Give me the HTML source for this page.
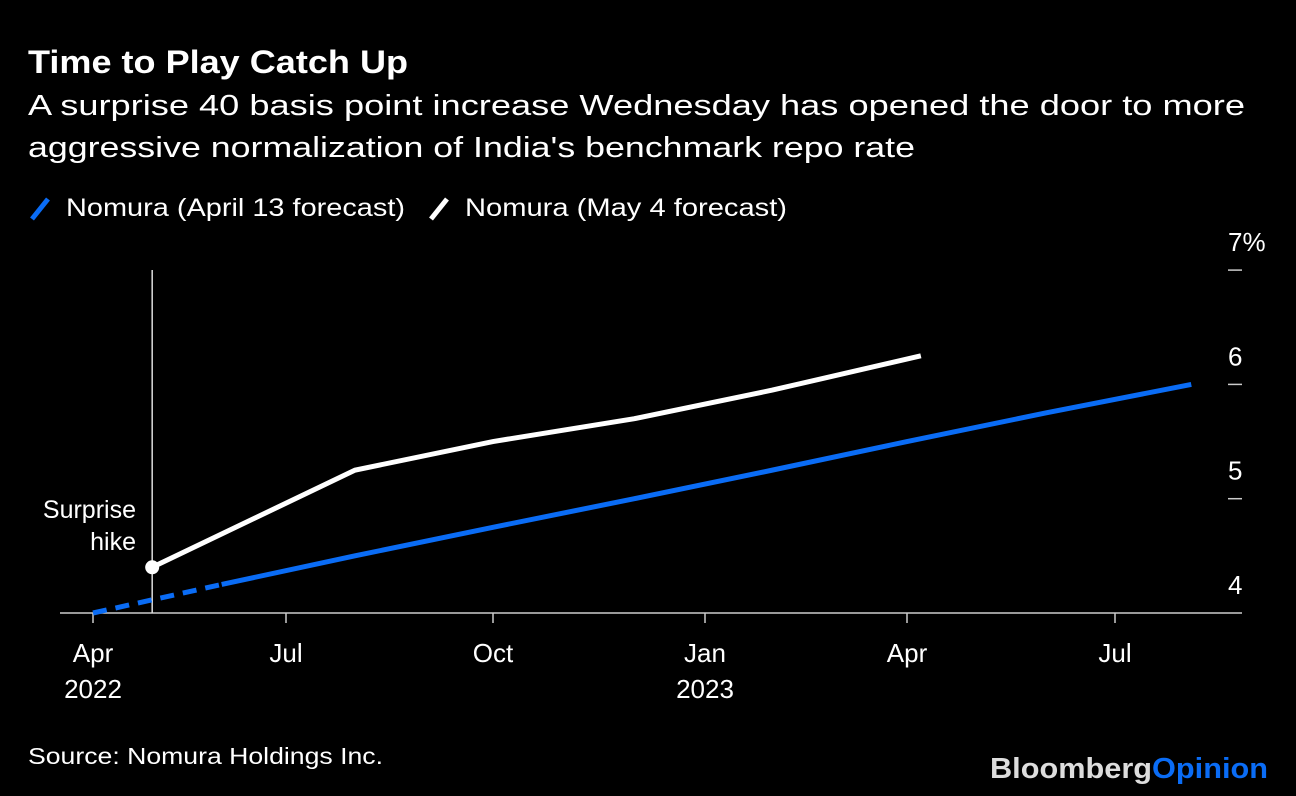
<!DOCTYPE html>
<html><head><meta charset="utf-8"><style>
body{margin:0;background:#000;width:1296px;height:796px;overflow:hidden;font-family:"Liberation Sans",sans-serif;color:#fff}
</style></head><body>
<svg width="1296" height="796" style="position:absolute;left:0;top:0">
<text x="28" y="73" font-size="32" font-weight="bold" fill="#fff" textLength="380" lengthAdjust="spacingAndGlyphs">Time to Play Catch Up</text>
<text x="28" y="115" font-size="29" fill="#fff" textLength="1217" lengthAdjust="spacingAndGlyphs">A surprise 40 basis point increase Wednesday has opened the door to more</text>
<text x="28" y="157" font-size="29" fill="#fff" textLength="887" lengthAdjust="spacingAndGlyphs">aggressive normalization of India's benchmark repo rate</text>
<g><line x1="32" y1="219" x2="48" y2="199" stroke="#0a6cf5" stroke-width="5"/><text x="66" y="216" font-size="25" fill="#fff" textLength="339" lengthAdjust="spacingAndGlyphs">Nomura (April 13 forecast)</text></g>
<g><line x1="431" y1="219" x2="447" y2="199" stroke="#fff" stroke-width="5"/><text x="465" y="216" font-size="25" fill="#fff" textLength="322" lengthAdjust="spacingAndGlyphs">Nomura (May 4 forecast)</text></g>
<g id="axes"></g><g id="marks"></g>
<text x="28" y="764" font-size="23" fill="#fff" textLength="355" lengthAdjust="spacingAndGlyphs">Source: Nomura Holdings Inc.</text>
<text x="990" y="778" font-size="29" font-weight="bold" textLength="278" lengthAdjust="spacingAndGlyphs"><tspan fill="#ddd">Bloomberg</tspan><tspan fill="#0a6cf5">Opinion</tspan></text>
</svg>
<script>
const tickMonths=[0,3,6,9,12,15];
const tickLabels=[["Apr","2022"],["Jul"],["Oct"],["Jan","2023"],["Apr"],["Jul"]];
const yTicks=[4,5,6,7];
const yLabels=["4","5","6","7%"];
const blueMonths=[0,2,4,6,8,10,12,14,16.1];
const blueValues=[4.0,4.25,4.5,4.75,5.0,5.25,5.5,5.75,6.0];
const whiteMonths=[0.92,4,6,8,10,12.2];
const whiteValues=[4.4,5.25,5.5,5.7,5.95,6.25];
const hikeMonth=0.92;
const tickPx=[93,286,493,705,907,1115];
function x(m){let i=Math.min(Math.floor(m/3),4);return tickPx[i]+(m-i*3)/3*(tickPx[i+1]-tickPx[i]);}
function y(v){return 613-(v-4)*114.3;}
const NS="http://www.w3.org/2000/svg";
const ax=document.getElementById('axes'),mk=document.getElementById('marks');
function el(t,a,p){const e=document.createElementNS(NS,t);for(const k in a)e.setAttribute(k,a[k]);p.appendChild(e);return e;}
let b=el('line',{x1:60,x2:1242,y1:y(4),y2:y(4),stroke:'#ccc','stroke-width':1.5},ax);


tickMonths.forEach((m,i)=>{
 let t=el('line',{x1:x(m),x2:x(m),y1:y(4),y2:y(4)+10,stroke:'#ccc','stroke-width':1.5},ax);
 
 
 tickLabels[i].forEach((s,j)=>{let tx=el('text',{x:x(m),y:662+j*36,'font-size':26,fill:'#fff','text-anchor':'middle'},ax);tx.textContent=s;
 
 });
});
yTicks.forEach((v,i)=>{
 if(v>4){let t=el('line',{x1:1228,x2:1242,y1:y(v),y2:y(v),stroke:'#ccc','stroke-width':1.5},ax);
 
 }
 let tx=el('text',{x:1228,y:y(v)-19,'font-size':26,fill:'#fff'},ax);tx.textContent=yLabels[i];
 
 
});
let vl=el('line',{x1:x(hikeMonth),x2:x(hikeMonth),y1:270,y2:y(4),stroke:'#ddd','stroke-width':1.5},ax);


[["Surprise",518],["hike",550]].forEach(([s,yy])=>{let t=el('text',{x:136,y:yy,'font-size':25,fill:'#fff','text-anchor':'end'},ax);t.textContent=s;

});
function pts(ms,vs,a,b){let r=[];for(let i=a;i<=b;i++)r.push(x(ms[i])+','+y(vs[i]));return r.join(' ');}
let bd=el('polyline',{points:pts(blueMonths,blueValues,0,1),fill:'none',stroke:'#0a6cf5','stroke-width':5,'stroke-dasharray':'14,9'},mk);


let bl=el('polyline',{points:pts(blueMonths,blueValues,1,blueMonths.length-1),fill:'none',stroke:'#0a6cf5','stroke-width':5},mk);


let wl=el('polyline',{points:pts(whiteMonths,whiteValues,0,whiteMonths.length-1),fill:'none',stroke:'#fff','stroke-width':5},mk);


let dot=el('circle',{cx:x(whiteMonths[0]),cy:y(whiteValues[0]),r:7,fill:'#fff'},mk);


</script>
</body></html>
